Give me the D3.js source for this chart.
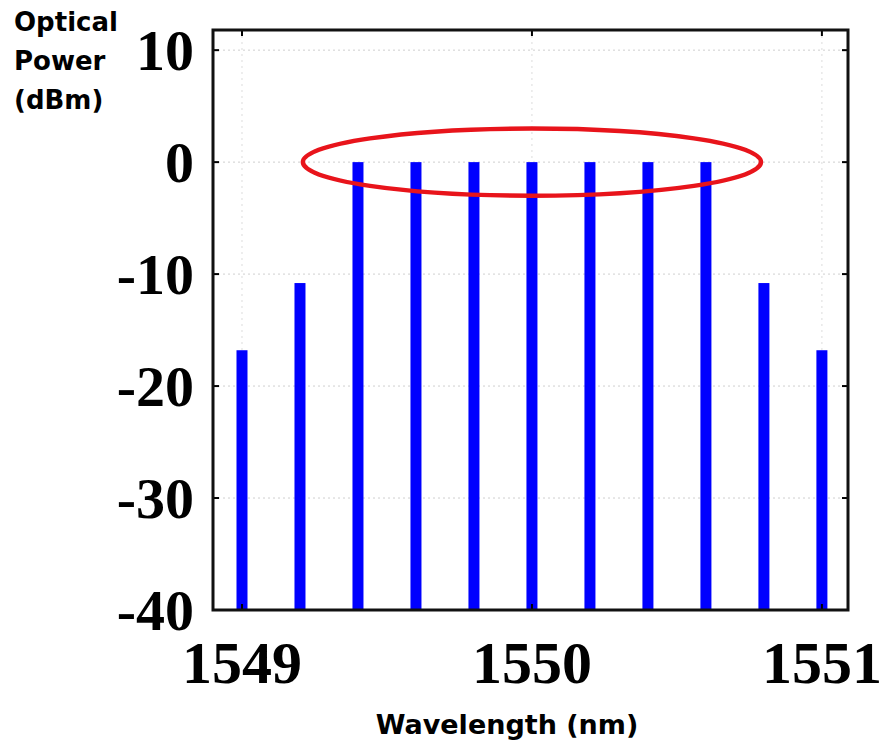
<!DOCTYPE html>
<html>
<head>
<meta charset="utf-8">
<script src="https://cdn.jsdelivr.net/npm/d3@7"></script>
<style>
  body { margin: 0; background: #fff; }
  .tick-label { font-family: "Liberation Serif", "Times New Roman", serif; font-weight: bold; fill: #000; }
  .axis-title { font-family: "DejaVu Sans", Verdana, sans-serif; font-weight: bold; fill: #000; }
</style>
</head>
<body>
<div id="chart"></div>
<script>
// channel wavelengths (nm) and optical power (dBm)
var wavelengths = [1549.0, 1549.2, 1549.4, 1549.6, 1549.8, 1550.0, 1550.2, 1550.4, 1550.6, 1550.8, 1551.0]
var powers = [-16.8, -10.8, 0, 0, 0, 0, 0, 0, 0, -10.8, -16.8]
var xTicks = [1549, 1550, 1551]
var yTicks = [10, 0, -10, -20, -30, -40]

var width = 882
var height = 743
var plot = { left: 213, right: 848, top: 30, bottom: 610 }

var svg = d3.select("#chart")
    .append("svg")
    .attr("width", width)
    .attr("height", height)

var xScale = d3.scaleLinear()
    .domain([1548.9, 1551.09])
    .range([plot.left, plot.right])
var yScale = d3.scaleLinear()
    .domain([-40, 11.8])
    .range([plot.bottom, plot.top])

// dotted grid
svg.append("g").selectAll("line")
    .data(yTicks.filter(d => d > -40))
    .enter().append("line")
    .attr("x1", plot.left).attr("x2", plot.right)
    .attr("y1", d => yScale(d)).attr("y2", d => yScale(d))
    .attr("stroke", "#cfcfcf")
    .attr("stroke-width", 1)
    .attr("stroke-dasharray", "2,3")
svg.append("g").selectAll("line")
    .data(xTicks)
    .enter().append("line")
    .attr("x1", d => xScale(d)).attr("x2", d => xScale(d))
    .attr("y1", plot.top).attr("y2", plot.bottom)
    .attr("stroke", "#dcdcdc")
    .attr("stroke-width", 1)
    .attr("stroke-dasharray", "2,4")

// bars (spectral lines)
svg.append("g").selectAll("rect")
    .data(wavelengths)
    .enter().append("rect")
    .attr("x", d => xScale(d) - 5.5)
    .attr("width", 11)
    .attr("y", (d, i) => yScale(powers[i]))
    .attr("height", (d, i) => yScale(-40) - yScale(powers[i]))
    .attr("fill", "#0000ff")

// inward ticks on all sides
var tickLen = 6
var ticks = svg.append("g").attr("stroke", "#000").attr("stroke-width", 2)
yTicks.forEach(v => {
    ticks.append("line").attr("x1", plot.left).attr("x2", plot.left + tickLen)
        .attr("y1", yScale(v)).attr("y2", yScale(v))
    ticks.append("line").attr("x1", plot.right).attr("x2", plot.right - tickLen)
        .attr("y1", yScale(v)).attr("y2", yScale(v))
})
xTicks.forEach(v => {
    ticks.append("line").attr("x1", xScale(v)).attr("x2", xScale(v))
        .attr("y1", plot.bottom).attr("y2", plot.bottom - tickLen)
    ticks.append("line").attr("x1", xScale(v)).attr("x2", xScale(v))
        .attr("y1", plot.top).attr("y2", plot.top + tickLen)
})

// frame
svg.append("rect")
    .attr("x", plot.left).attr("y", plot.top)
    .attr("width", plot.right - plot.left)
    .attr("height", plot.bottom - plot.top)
    .attr("fill", "none")
    .attr("stroke", "#111")
    .attr("stroke-width", 3)

// red ellipse around the flat channels
svg.append("ellipse")
    .attr("cx", xScale(1550))
    .attr("cy", yScale(0))
    .attr("rx", xScale(1550.79) - xScale(1550))
    .attr("ry", yScale(-3) - yScale(0))
    .attr("fill", "none")
    .attr("stroke", "#e8141b")
    .attr("stroke-width", 4.5)

// tick labels
svg.append("g").selectAll("text")
    .data(yTicks)
    .enter().append("text")
    .attr("class", "tick-label")
    .attr("x", 194)
    .attr("y", d => yScale(d) + 20)
    .attr("text-anchor", "end")
    .attr("font-size", "58px")
    .text(d => d)
svg.append("g").selectAll("text")
    .data(xTicks)
    .enter().append("text")
    .attr("class", "tick-label")
    .attr("x", d => xScale(d))
    .attr("y", 683)
    .attr("text-anchor", "middle")
    .attr("font-size", "60px")
    .text(d => d)

// axis titles
var yTitle = ["Optical", "Power", "(dBm)"]
svg.append("g").selectAll("text")
    .data(yTitle)
    .enter().append("text")
    .attr("class", "axis-title")
    .attr("x", 14)
    .attr("y", (d, i) => 31 + i * 39)
    .attr("font-size", "26px")
    .text(d => d)
svg.append("text")
    .attr("class", "axis-title")
    .attr("x", 507)
    .attr("y", 734)
    .attr("text-anchor", "middle")
    .attr("font-size", "27px")
    .text("Wavelength (nm)")
</script>
</body>
</html>
